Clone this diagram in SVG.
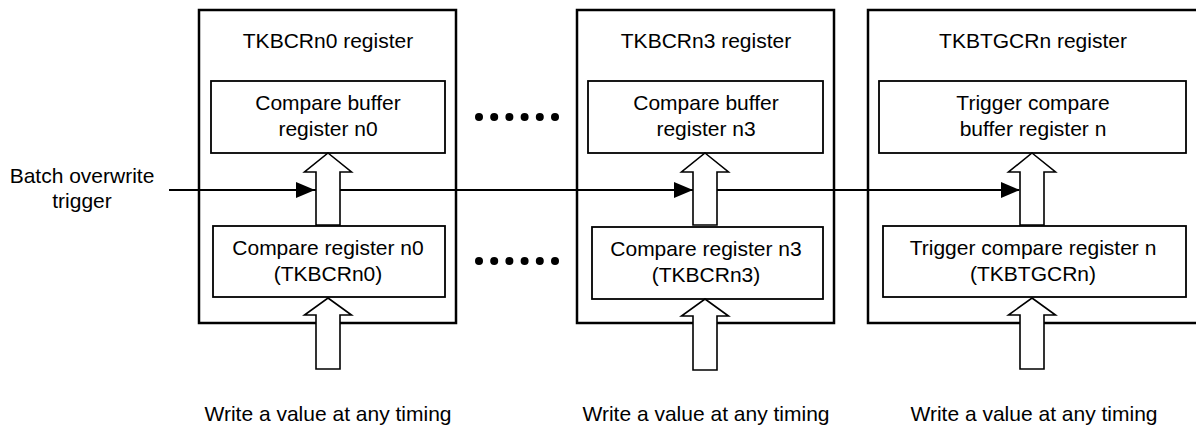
<svg xmlns="http://www.w3.org/2000/svg" width="1196" height="428" viewBox="0 0 1196 428">
<style>
text{font-family:"Liberation Sans",Arial,sans-serif;font-size:21px;fill:#000;text-anchor:middle}
.outer{fill:#fff;stroke:#000;stroke-width:2.5}
.inner{fill:#fff;stroke:#000;stroke-width:1.8}
.blk{fill:#fff;stroke:#000;stroke-width:1.6;stroke-linejoin:miter}
.trig{stroke:#000;stroke-width:2;fill:none}
.head{fill:#000;stroke:none}
.dot{fill:#000}
</style>
<defs>
<path id="upArrow" d="M0,0 L23.5,19 L12,19 L12,72 L-12,72 L-12,19 L-23.5,19 Z"/>
<path id="inArrow" d="M0,0 L23.5,17 L12,17 L12,71 L-12,71 L-12,17 L-23.5,17 Z"/>
<path id="trigHead" d="M0,0 L-19,-8 L-19,8 Z"/>
</defs>
<rect width="1196" height="428" fill="#fff"/>

<g id="label-trigger">
<text x="82" y="183">Batch overwrite</text>
<text x="82" y="208">trigger</text>
</g>

<g id="reg-n0">
<rect class="outer" x="199" y="10" width="257" height="313"/>
<text x="328" y="48">TKBCRn0 register</text>
<g id="buf-n0">
<rect class="inner" x="211" y="81" width="234" height="72"/>
<text x="328" y="110">Compare buffer</text>
<text x="328" y="136">register n0</text>
</g>
<g id="cmp-n0">
<rect class="inner" x="213" y="226" width="232" height="71"/>
<text x="328" y="255">Compare register n0</text>
<text x="328" y="281">(TKBCRn0)</text>
</g>
</g>

<g id="ellipsis">
<circle class="dot" cx="479" cy="117" r="4"/><circle class="dot" cx="494.2" cy="117" r="4"/><circle class="dot" cx="509.4" cy="117" r="4"/><circle class="dot" cx="524.6" cy="117" r="4"/><circle class="dot" cx="539.8" cy="117" r="4"/><circle class="dot" cx="555" cy="117" r="4"/>
<circle class="dot" cx="479" cy="261" r="4"/><circle class="dot" cx="494.2" cy="261" r="4"/><circle class="dot" cx="509.4" cy="261" r="4"/><circle class="dot" cx="524.6" cy="261" r="4"/><circle class="dot" cx="539.8" cy="261" r="4"/><circle class="dot" cx="555" cy="261" r="4"/>
</g>

<g id="reg-n3">
<rect class="outer" x="577" y="10" width="257" height="313"/>
<text x="706" y="48">TKBCRn3 register</text>
<g id="buf-n3">
<rect class="inner" x="588" y="81" width="235" height="72"/>
<text x="706" y="110">Compare buffer</text>
<text x="706" y="136">register n3</text>
</g>
<g id="cmp-n3">
<rect class="inner" x="592" y="227" width="231" height="72"/>
<text x="706" y="256">Compare register n3</text>
<text x="706" y="282">(TKBCRn3)</text>
</g>
</g>

<g id="reg-tg">
<rect class="outer" x="868" y="10" width="340" height="313"/>
<text x="1033" y="48">TKBTGCRn register</text>
<g id="buf-tg">
<rect class="inner" x="879" y="81" width="307" height="72"/>
<text x="1033" y="110">Trigger compare</text>
<text x="1033" y="136">buffer register n</text>
</g>
<g id="cmp-tg">
<rect class="inner" x="883" y="226" width="303" height="71"/>
<text x="1033" y="255">Trigger compare register n</text>
<text x="1033" y="281">(TKBTGCRn)</text>
</g>
</g>

<g id="connectors">
<line class="trig" x1="169" y1="190" x2="1019" y2="190"/>
<use href="#trigHead" class="head" x="315" y="190"/>
<use href="#trigHead" class="head" x="693" y="190"/>
<use href="#trigHead" class="head" x="1020" y="190"/>
<use href="#upArrow" class="blk" x="328" y="153"/>
<use href="#upArrow" class="blk" x="705" y="153"/>
<use href="#upArrow" class="blk" x="1032" y="153"/>
<use href="#inArrow" class="blk" x="328" y="298"/>
<use href="#inArrow" class="blk" x="705" y="299"/>
<use href="#inArrow" class="blk" x="1032" y="298"/>
</g>

<g id="labels-write">
<text x="328" y="421">Write a value at any timing</text>
<text x="706" y="421">Write a value at any timing</text>
<text x="1034" y="421">Write a value at any timing</text>
</g>
</svg>
